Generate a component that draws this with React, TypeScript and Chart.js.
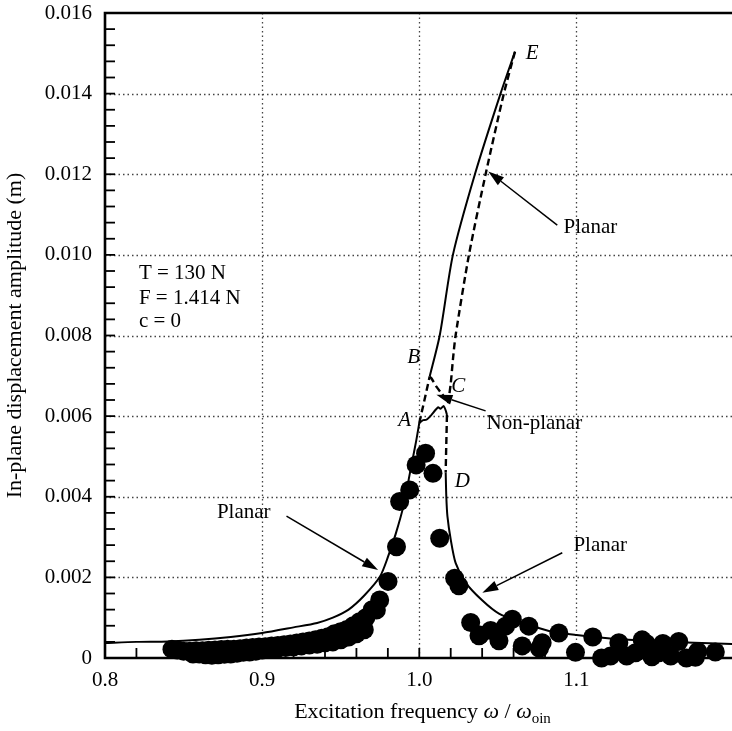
import React, { useEffect, useRef } from "react";
import { Chart, registerables } from "chart.js";

Chart.register(...registerables);

type P = [number, number];

// Axis tick values
const xTicks = [0.8, 0.9, 1.0, 1.1];
const yTicks = [0, 0.002, 0.004, 0.006, 0.008, 0.01, 0.012, 0.014, 0.016];

// Theory curves (frequency ratio, amplitude in m)
const planarLower: P[] = [
  [0.8, 0.00037], [0.82, 0.0004], [0.84, 0.00041], [0.86, 0.00045], [0.88, 0.00052],
  [0.9, 0.00062], [0.92, 0.00076], [0.935, 0.00087], [0.945, 0.001], [0.955, 0.0012],
  [0.965, 0.00155], [0.975, 0.00202], [0.98, 0.0025], [0.985, 0.00308], [0.99, 0.00378],
  [0.994, 0.00458], [0.998, 0.00538], [1.0, 0.00583],
];
const segmentAB: P[] = [[1.0, 0.00583], [1.0033, 0.0064], [1.0066, 0.00698]];
const upperStable: P[] = [
  [1.0066, 0.00698], [1.013, 0.008], [1.0214, 0.01], [1.0354, 0.012], [1.0517, 0.014], [1.0609, 0.01504],
];
const upperUnstable: P[] = [
  [1.0609, 0.01504], [1.0538, 0.014], [1.0422, 0.012], [1.0316, 0.01], [1.0231, 0.008],
  [1.0214, 0.0074], [1.02, 0.0068], [1.0183, 0.00632],
];
const segmentBC: P[] = [
  [1.0066, 0.00698], [1.0077, 0.00694], [1.0109, 0.00673], [1.0141, 0.00657], [1.0172, 0.0064], [1.0183, 0.00632],
];
const nonPlanar: P[] = [
  [1.0, 0.00583], [1.0025, 0.0059], [1.0045, 0.00591], [1.0075, 0.00602], [1.01, 0.00614],
  [1.012, 0.00622], [1.0135, 0.00618], [1.0155, 0.00625], [1.017, 0.00612], [1.0176, 0.00603],
];
const segmentCD: P[] = [[1.0176, 0.00603], [1.0173, 0.0055], [1.017, 0.005], [1.0168, 0.0046]];
const planarUpperFreq: P[] = [
  [1.0168, 0.0046], [1.0172, 0.004], [1.0179, 0.00352], [1.02, 0.00294], [1.0231, 0.00236],
  [1.0295, 0.00187], [1.04, 0.00143], [1.0507, 0.0011], [1.0655, 0.00088], [1.0825, 0.00067],
  [1.1, 0.00057], [1.12, 0.00049], [1.14, 0.00044], [1.16, 0.0004], [1.18, 0.00037], [1.199, 0.00035],
];

// Experimental points: dense band below resonance (upper and lower rows)
const measuredBandUpper: P[] = [
  [0.8426, 0.00022], [0.846, 0.0002], [0.85, 0.00017], [0.854, 0.00017], [0.858, 0.00018],
  [0.862, 0.00018], [0.866, 0.00019], [0.87, 0.0002], [0.874, 0.00021], [0.878, 0.00022],
  [0.882, 0.00022], [0.886, 0.00023], [0.89, 0.00025], [0.894, 0.00026], [0.898, 0.00027],
  [0.902, 0.00028], [0.906, 0.0003], [0.91, 0.00031], [0.914, 0.00033], [0.918, 0.00035],
  [0.922, 0.00037], [0.926, 0.0004], [0.93, 0.00042], [0.934, 0.00045], [0.938, 0.00049],
  [0.942, 0.00053], [0.946, 0.0006], [0.95, 0.00065], [0.954, 0.00071], [0.958, 0.0008],
  [0.962, 0.0009], [0.966, 0.001], [0.97, 0.0012],
];
const measuredBandLower: P[] = [
  [0.856, 0.0001], [0.86, 0.0001], [0.864, 0.00008], [0.868, 0.00007], [0.872, 0.00008],
  [0.876, 0.00009], [0.88, 0.0001], [0.884, 0.00012], [0.888, 0.00014], [0.892, 0.00015],
  [0.896, 0.00017], [0.9, 0.0002], [0.905, 0.00022], [0.91, 0.00024], [0.915, 0.00026],
  [0.92, 0.00028], [0.925, 0.0003], [0.93, 0.00032], [0.935, 0.00034], [0.94, 0.00038],
  [0.945, 0.0004], [0.95, 0.00045], [0.955, 0.00052], [0.96, 0.0006], [0.965, 0.0007],
];
// Experimental points: resonance region and above
const measuredPeak: P[] = [
  [0.9727, 0.00119], [0.9748, 0.00144], [0.9801, 0.0019], [0.9855, 0.00276], [0.9875, 0.00388],
  [0.9939, 0.00417], [0.998, 0.00479], [1.004, 0.00508], [1.0087, 0.00458], [1.013, 0.00297],
  [1.0225, 0.00198], [1.0252, 0.00179],
  [1.0327, 0.00088], [1.0385, 0.00057], [1.038, 0.00055], [1.0454, 0.00068], [1.0507, 0.00043],
  [1.0549, 0.00079], [1.0592, 0.00096], [1.0655, 0.0003], [1.0697, 0.00079], [1.0765, 0.00024],
  [1.0782, 0.00038], [1.0888, 0.00062], [1.0994, 0.00014], [1.1104, 0.00052], [1.1217, 0.00005],
  [1.127, 0.00038], [1.1376, 0.00013], [1.1418, 0.00045], [1.1444, 0.00036], [1.1524, 0.00013],
  [1.155, 0.00036], [1.1651, 0.00041], [1.1757, 0.00002], [1.1772, 0.00016], [1.1884, 0.00015],
  [1.116, 0.0], [1.132, 0.00005], [1.148, 0.00003], [1.16, 0.00005], [1.17, 0.0],
];

// Annotation texts (anchored in data coordinates)
const notes = [
  { t: "T = 130 N", x: 0.8216, y: 0.00955 },
  { t: "F = 1.414 N", x: 0.8216, y: 0.00893 },
  { t: "c = 0", x: 0.8216, y: 0.00834 },
  { t: "Planar", x: 1.0918, y: 0.01067 },
  { t: "Non-planar", x: 1.0428, y: 0.00581 },
  { t: "Planar", x: 1.0981, y: 0.00278 },
  { t: "Planar", x: 0.8712, y: 0.00362 },
];
const letters = [
  { t: "E", x: 1.0719, y: 0.015 },
  { t: "B", x: 0.9965, y: 0.00745 },
  { t: "C", x: 1.0248, y: 0.00673 },
  { t: "A", x: 0.9907, y: 0.00589 },
  { t: "D", x: 1.0274, y: 0.00439 },
];
const arrows: { from: P; to: P }[] = [
  { from: [1.0878, 0.01074], to: [1.0439, 0.01207] },
  { from: [1.0422, 0.00613], to: [1.0109, 0.00653] },
  { from: [1.091, 0.00261], to: [1.0401, 0.00162] },
  { from: [0.9155, 0.00352], to: [0.9738, 0.00218] },
];

const xTitle = "Excitation frequency ";
const yTitle = "In-plane displacement amplitude (m)";

const SERIF = "'Liberation Serif', 'Times New Roman', serif";

const toXY = (arr: P[]) => arr.map(([x, y]) => ({ x, y }));

const line = (arr: P[], dashed: boolean, tension = 0.25) => ({
  data: toXY(arr),
  showLine: true,
  pointRadius: 0,
  borderColor: "#000",
  borderWidth: dashed ? 2.4 : 2,
  borderDash: dashed ? [7, 4] : [],
  tension,
  fill: false,
});

const dots = (arr: P[]) => ({
  data: toXY(arr),
  showLine: false,
  pointRadius: 9.5,
  pointHoverRadius: 9.5,
  pointBackgroundColor: "#000",
  pointBorderWidth: 0,
  backgroundColor: "#000",
  clip: false,
});

const decorPlugin = {
  id: "decor",
  beforeDatasetsDraw(chart: any) {
    const { ctx, chartArea: a, scales } = chart;
    const xs = scales.x;
    const ys = scales.y;
    ctx.save();
    ctx.strokeStyle = "#444";
    ctx.lineWidth = 1.3;
    ctx.setLineDash([1.5, 3]);
    xTicks.forEach((v) => {
      if (v <= xs.min) return;
      const px = Math.round(xs.getPixelForValue(v)) + 0.5;
      ctx.beginPath();
      ctx.moveTo(px, a.top);
      ctx.lineTo(px, a.bottom);
      ctx.stroke();
    });
    yTicks.forEach((v) => {
      if (v <= ys.min || v >= ys.max) return;
      const py = Math.round(ys.getPixelForValue(v)) + 0.5;
      ctx.beginPath();
      ctx.moveTo(a.left, py);
      ctx.lineTo(a.right, py);
      ctx.stroke();
    });
    ctx.restore();
  },
  afterDatasetsDraw(chart: any) {
    const { ctx, chartArea: a, scales } = chart;
    const xs = scales.x;
    const ys = scales.y;
    ctx.save();
    ctx.setLineDash([]);
    ctx.strokeStyle = "#000";
    ctx.fillStyle = "#000";

    // inner ticks
    ctx.lineWidth = 1.8;
    for (let i = 0; i <= 19; i++) {
      const v = 0.8 + i * 0.02;
      if (v > xs.max) break;
      const px = xs.getPixelForValue(v);
      ctx.beginPath();
      ctx.moveTo(px, a.bottom);
      ctx.lineTo(px, a.bottom - 10);
      ctx.stroke();
    }
    for (let i = 0; i <= 40; i++) {
      const py = ys.getPixelForValue(i * 0.0004);
      ctx.beginPath();
      ctx.moveTo(a.left, py);
      ctx.lineTo(a.left + 10, py);
      ctx.stroke();
    }

    // frame lines: left, bottom, top
    ctx.lineWidth = 2.6;
    ctx.beginPath();
    ctx.moveTo(a.left, a.top);
    ctx.lineTo(a.left, a.bottom);
    ctx.moveTo(a.left - 1.3, a.bottom);
    ctx.lineTo(a.right, a.bottom);
    ctx.moveTo(a.left - 1.3, a.top);
    ctx.lineTo(a.right, a.top);
    ctx.stroke();

    // arrows
    ctx.lineWidth = 1.5;
    arrows.forEach(({ from, to }) => {
      const x1 = xs.getPixelForValue(from[0]);
      const y1 = ys.getPixelForValue(from[1]);
      const x2 = xs.getPixelForValue(to[0]);
      const y2 = ys.getPixelForValue(to[1]);
      const ang = Math.atan2(y2 - y1, x2 - x1);
      const hl = 16;
      const hw = 5;
      const bx = x2 - hl * Math.cos(ang);
      const by = y2 - hl * Math.sin(ang);
      ctx.beginPath();
      ctx.moveTo(x1, y1);
      ctx.lineTo(bx, by);
      ctx.stroke();
      ctx.beginPath();
      ctx.moveTo(x2, y2);
      ctx.lineTo(bx + hw * Math.sin(ang), by - hw * Math.cos(ang));
      ctx.lineTo(bx - hw * Math.sin(ang), by + hw * Math.cos(ang));
      ctx.closePath();
      ctx.fill();
    });

    // annotation texts
    ctx.textBaseline = "middle";
    ctx.textAlign = "left";
    ctx.font = `21px ${SERIF}`;
    notes.forEach((n) => {
      ctx.fillText(n.t, xs.getPixelForValue(n.x), ys.getPixelForValue(n.y));
    });
    ctx.textAlign = "center";
    ctx.font = `italic 21px ${SERIF}`;
    letters.forEach((n) => {
      ctx.fillText(n.t, xs.getPixelForValue(n.x), ys.getPixelForValue(n.y));
    });

    // y title
    ctx.save();
    ctx.translate(15, (a.top + a.bottom) / 2);
    ctx.rotate(-Math.PI / 2);
    ctx.textAlign = "center";
    ctx.textBaseline = "middle";
    ctx.font = `22px ${SERIF}`;
    ctx.fillText(yTitle, 0, 0);
    ctx.restore();

    // x title with subscript
    const parts = [
      { t: xTitle, f: `22px ${SERIF}`, dy: 0 },
      { t: "\u03C9", f: `italic 22px ${SERIF}`, dy: 0 },
      { t: " / ", f: `22px ${SERIF}`, dy: 0 },
      { t: "\u03C9", f: `italic 22px ${SERIF}`, dy: 0 },
      { t: "oin", f: `15px ${SERIF}`, dy: 5 },
    ];
    let total = 0;
    parts.forEach((p) => {
      ctx.font = p.f;
      total += ctx.measureText(p.t).width;
    });
    let cx = (a.left + a.right) / 2 + 4 - total / 2;
    const base = 718;
    ctx.textAlign = "left";
    ctx.textBaseline = "alphabetic";
    parts.forEach((p) => {
      ctx.font = p.f;
      ctx.fillText(p.t, cx, base + p.dy);
      cx += ctx.measureText(p.t).width;
    });
    ctx.restore();
  },
};

export default function App() {
  const ref = useRef<HTMLCanvasElement | null>(null);
  useEffect(() => {
    document.body.style.margin = "0";
    const canvas = ref.current;
    if (!canvas) return;
    const chart = new Chart(canvas, {
      type: "scatter",
      data: {
        datasets: [
          line(planarLower, false),
          line(segmentAB, true, 0),
          line(upperStable, false),
          line(upperUnstable, true),
          line(segmentBC, true),
          line(nonPlanar, false, 0.2),
          line(segmentCD, true, 0),
          line(planarUpperFreq, false),
          dots(measuredBandUpper),
          dots(measuredBandLower),
          dots(measuredPeak),
        ] as any,
      },
      options: {
        animation: false,
        responsive: false,
        events: [],
        layout: { autoPadding: false, padding: { top: 13, left: 0, right: 0, bottom: 0 } },
        plugins: { legend: { display: false }, tooltip: { enabled: false }, title: { display: false } },
        scales: {
          x: {
            type: "linear",
            min: 0.8,
            max: 1.199,
            afterBuildTicks: (s: any) => {
              s.ticks = xTicks.map((v) => ({ value: v }));
            },
            afterFit: (s: any) => {
              s.height = 73;
              s.paddingLeft = 0;
              s.paddingRight = 0;
            },
            grid: { display: false, drawTicks: false },
            border: { display: false },
            ticks: {
              color: "#000",
              padding: 10,
              maxRotation: 0,
              autoSkip: false,
              font: { family: SERIF, size: 21 },
              callback: (v: any) => Number(v).toFixed(1),
            },
          },
          y: {
            type: "linear",
            min: 0,
            max: 0.016,
            afterBuildTicks: (s: any) => {
              s.ticks = yTicks.map((v) => ({ value: v }));
            },
            afterFit: (s: any) => {
              s.width = 105;
              s.paddingTop = 0;
              s.paddingBottom = 0;
            },
            grid: { display: false, drawTicks: false },
            border: { display: false },
            ticks: {
              color: "#000",
              padding: 13,
              autoSkip: false,
              font: { family: SERIF, size: 21 },
              callback: (v: any) => (Number(v) === 0 ? "0" : Number(v).toFixed(3)),
            },
          },
        },
      },
      plugins: [decorPlugin],
    } as any);
    return () => chart.destroy();
  }, []);
  return (
    <div style={{ position: "absolute", left: 0, top: 0, width: 732, height: 731, background: "#fff" }}>
      <canvas ref={ref} width={732} height={731} style={{ display: "block" }} />
    </div>
  );
}
